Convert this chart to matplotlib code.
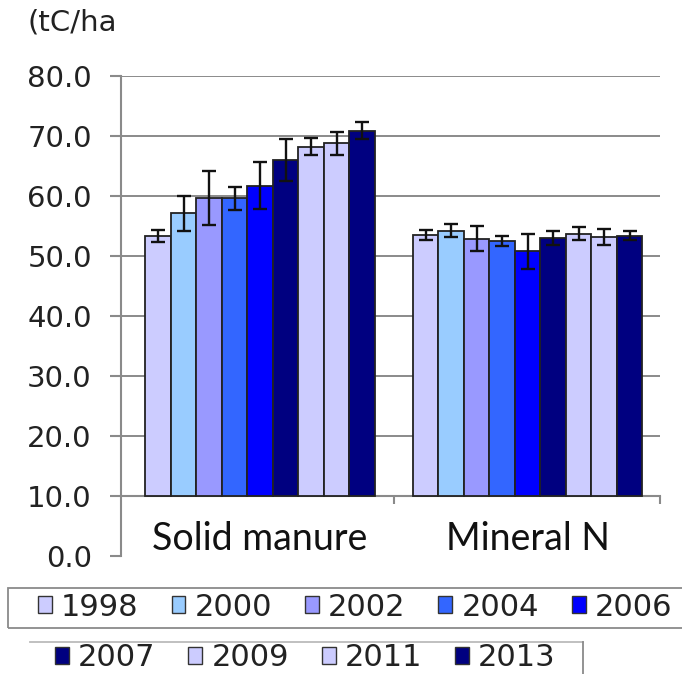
import matplotlib
matplotlib.use('Agg')
import matplotlib.pyplot as plt
import numpy as np
from matplotlib.patches import Patch, Rectangle
from matplotlib.lines import Line2D

categories = ['Solid manure', 'Mineral N']
years = ['1998', '2000', '2002', '2004', '2006', '2007', '2009', '2011', '2013']
colors = ['#CCCCFF', '#99CCFF', '#9999FF', '#3366FF', '#0000FF',
          '#000080', '#CCCCFF', '#CCCCFF', '#000080']
solid_manure = [53.3, 57.1, 59.7, 59.6, 61.7, 66.0, 68.2, 68.8, 70.9]
solid_manure_err = [1.0, 2.9, 4.5, 1.9, 3.9, 3.5, 1.4, 1.9, 1.4]
mineral_n = [53.5, 54.2, 52.9, 52.5, 50.8, 53.0, 53.7, 53.2, 53.4]
mineral_n_err = [0.8, 1.05, 2.15, 0.85, 2.9, 1.2, 1.05, 1.35, 0.7]
yticks = [0, 10, 20, 30, 40, 50, 60, 70, 80]
ytick_labels = ['0.0', '10.0', '20.0', '30.0', '40.0', '50.0', '60.0', '70.0', '80.0']
baseline = 10.0
unit_label = '(tC/ha'

W, H = 682, 674
fig = plt.figure(figsize=(W / 100, H / 100), dpi=100)
ax = fig.add_axes([121 / W, 118 / H, 539 / W, 480 / H])

grey = '#8a8a8a'
values = np.array([solid_manure, mineral_n])
errs = np.array([solid_manure_err, mineral_n_err])
x = np.arange(len(categories))
w = 0.0953
for i, yr in enumerate(years):
    ax.bar(x + (i - 4) * w, values[:, i] - baseline, bottom=baseline, width=w,
           color=colors[i], edgecolor='#222222', linewidth=1.3,
           yerr=errs[:, i], capsize=5,
           error_kw=dict(elinewidth=1.7, capthick=1.7, ecolor='#111111'),
           zorder=3)

ax.set_xlim(-0.52, 1.495)
ax.set_ylim(0, 80)
ax.set_yticks(yticks)
ax.set_yticklabels(ytick_labels)
for yv in yticks[2:]:
    ax.axhline(yv, color=grey, linewidth=1.4, zorder=1)

for s in ['top', 'right']:
    ax.spines[s].set_visible(False)
ax.spines['left'].set_color(grey)
ax.spines['left'].set_linewidth(1.5)
ax.spines['bottom'].set_position(('data', baseline))
ax.spines['bottom'].set_color(grey)
ax.spines['bottom'].set_linewidth(1.5)

ax.tick_params(axis='y', direction='out', length=8, width=1.5, color=grey,
               pad=13, labelsize=21)
for lab in ax.get_yticklabels():
    lab.set_family('DejaVu Sans')
    lab.set_color('#222222')

ax.set_xticks(x)
ax.set_xticklabels(categories, family='Lato', fontsize=27)
ax.tick_params(axis='x', which='major', length=0, pad=18)
for lab in ax.get_xticklabels():
    lab.set_color('#111111')
ax.set_xticks([0.5, 1.495], minor=True)
ax.tick_params(axis='x', which='minor', direction='out', length=6, width=1.5, color=grey)

fig.text(28 / W, 1 - 22 / H, unit_label, family='DejaVu Sans', fontsize=21,
         va='center', ha='left', color='#222222')

# legend frames (drawn as figure decorations)
fig.patches.append(Rectangle((8 / W, 1 - 628 / H), 700 / W, 40 / H,
                             transform=fig.transFigure, fill=False,
                             edgecolor=grey, linewidth=1.3))
fig.add_artist(Line2D([30 / W, 583 / W], [1 - 642 / H, 1 - 642 / H],
                      transform=fig.transFigure, color='#bbbbbb', linewidth=1.3))
fig.add_artist(Line2D([583 / W, 583 / W], [1 - 642 / H, 0],
                      transform=fig.transFigure, color=grey, linewidth=1.3))

handles = [Patch(facecolor=c, edgecolor='#333333', linewidth=1.0) for c in colors]
common = dict(loc='center left', frameon=False, handlelength=0.45,
              handleheight=0.45, handletextpad=0.3, columnspacing=1.08,
              borderpad=0, borderaxespad=0,
              prop=dict(family='DejaVu Sans', size=22))
leg1 = fig.legend(handles[:5], years[:5], ncol=5,
                  bbox_to_anchor=(38 / W, 1 - 607 / H), **common)
leg2 = fig.legend(handles[5:], years[5:], ncol=4,
                  bbox_to_anchor=(55 / W, 1 - 658 / H), **common)
for lg in (leg1, leg2):
    for t in lg.get_texts():
        t.set_color('#222222')

fig.savefig('out.png', dpi=100)
